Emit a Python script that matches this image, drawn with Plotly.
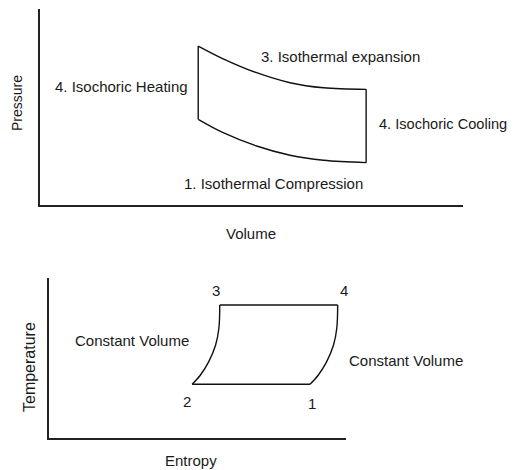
import plotly.graph_objects as go

# ---- P-V diagram (top) ----
pv_top_volume = [3.74, 4.33, 5.12, 5.91, 6.70, 7.71]
pv_top_pressure = [8.11, 7.46, 6.75, 6.24, 5.98, 5.90]
pv_bot_volume = [3.74, 4.33, 5.12, 5.91, 6.70, 7.71]
pv_bot_pressure = [4.37, 3.69, 3.01, 2.54, 2.28, 2.16]
pv_labels = ["3. Isothermal expansion", "4. Isochoric Heating",
             "4. Isochoric Cooling", "1. Isothermal Compression"]

# ---- T-S diagram (bottom) ----
ts_left_entropy = [5.75, 5.72, 5.61, 5.38, 5.10, 4.82]
ts_left_temp = [8.31, 6.86, 5.81, 4.77, 3.94, 3.36]
ts_right_entropy = [9.72, 9.69, 9.58, 9.35, 9.07, 8.79]
ts_right_temp = [8.31, 6.86, 5.81, 4.77, 3.94, 3.36]
ts_points = ["1", "2", "3", "4"]
ts_labels = ["Constant Volume", "Constant Volume"]

FONT = "Liberation Sans, Arial, sans-serif"
LINE = dict(color="#111111", width=1.4)

W, H = 516, 470
def px(x):
    return x / W
def py(y):
    return 1 - y / H

fig = go.Figure()

# top cycle curves
fig.add_trace(go.Scatter(x=pv_top_volume, y=pv_top_pressure, mode="lines",
                         line=dict(shape="spline", **LINE), xaxis="x", yaxis="y"))
fig.add_trace(go.Scatter(x=pv_bot_volume, y=pv_bot_pressure, mode="lines",
                         line=dict(shape="spline", **LINE), xaxis="x", yaxis="y"))
# isochoric sides
fig.add_trace(go.Scatter(
    x=[pv_top_volume[0], pv_bot_volume[0], None, pv_top_volume[-1], pv_bot_volume[-1]],
    y=[pv_top_pressure[0], pv_bot_pressure[0], None, pv_top_pressure[-1], pv_bot_pressure[-1]],
    mode="lines", line=LINE, xaxis="x", yaxis="y"))

# bottom cycle
fig.add_trace(go.Scatter(x=ts_left_entropy, y=ts_left_temp, mode="lines",
                         line=dict(shape="spline", **LINE), xaxis="x2", yaxis="y2"))
fig.add_trace(go.Scatter(x=ts_right_entropy, y=ts_right_temp, mode="lines",
                         line=dict(shape="spline", **LINE), xaxis="x2", yaxis="y2"))
fig.add_trace(go.Scatter(
    x=[ts_left_entropy[0], ts_right_entropy[0], None, ts_left_entropy[-1], ts_right_entropy[-1]],
    y=[ts_left_temp[0], ts_right_temp[0], None, ts_left_temp[-1], ts_right_temp[-1]],
    mode="lines", line=LINE, xaxis="x2", yaxis="y2"))

ax = dict(showline=True, linecolor="#222222", linewidth=2, showgrid=False,
          zeroline=False, showticklabels=False, ticks="", fixedrange=True)

fig.update_layout(
    width=W, height=H, margin=dict(l=0, r=0, t=0, b=0),
    paper_bgcolor="white", plot_bgcolor="white", showlegend=False,
    hovermode=False,
    font=dict(family=FONT, size=15, color="#1a1a1a"),
    xaxis=dict(domain=[px(40), px(463)], range=[0, 10], anchor="y", **ax),
    yaxis=dict(domain=[py(205), py(9)], range=[0, 10], anchor="x", **ax),
    xaxis2=dict(domain=[px(49), px(346)], range=[0, 10], anchor="y2", **ax),
    yaxis2=dict(domain=[py(438), py(278)], range=[0, 10], anchor="x2", **ax),
)

def ann(text, x, y, xref, yref, xanchor="center", size=15, angle=0):
    fig.add_annotation(text=text, x=x, y=y, xref=xref, yref=yref, showarrow=False,
                       xanchor=xanchor, yanchor="middle", textangle=angle,
                       font=dict(family=FONT, size=size, color="#1a1a1a"))

# top labels
ann(pv_labels[0], 7.11, 7.60, "x", "y")
ann(pv_labels[1], 3.55, 6.04, "x", "y", xanchor="right")
ann(pv_labels[2], 7.97, 4.13, "x", "y", xanchor="left", size=14.6)
ann(pv_labels[3], 5.53, 1.11, "x", "y")
ann("Volume", px(251), py(233), "paper", "paper")
ann("Pressure", px(17), py(103), "paper", "paper", angle=-90, size=14)

# bottom labels
ann(ts_points[0], 8.84, 2.17, "x2", "y2")
ann(ts_points[1], 4.65, 2.27, "x2", "y2")
ann(ts_points[2], 5.61, 9.25, "x2", "y2")
ann(ts_points[3], 9.94, 9.25, "x2", "y2")
ann(ts_labels[0], px(191), py(340), "paper", "paper", xanchor="right")
ann(ts_labels[1], px(346.7), py(360), "paper", "paper", xanchor="left")
ann("Entropy", px(191), py(460), "paper", "paper")
ann("Temperature", px(29), py(367), "paper", "paper", angle=-90, size=16)

fig.write_html("out.html",
               config={"displayModeBar": False, "staticPlot": True},
               post_script="document.body.style.margin='0';"
                           "document.body.style.overflow='hidden';")
